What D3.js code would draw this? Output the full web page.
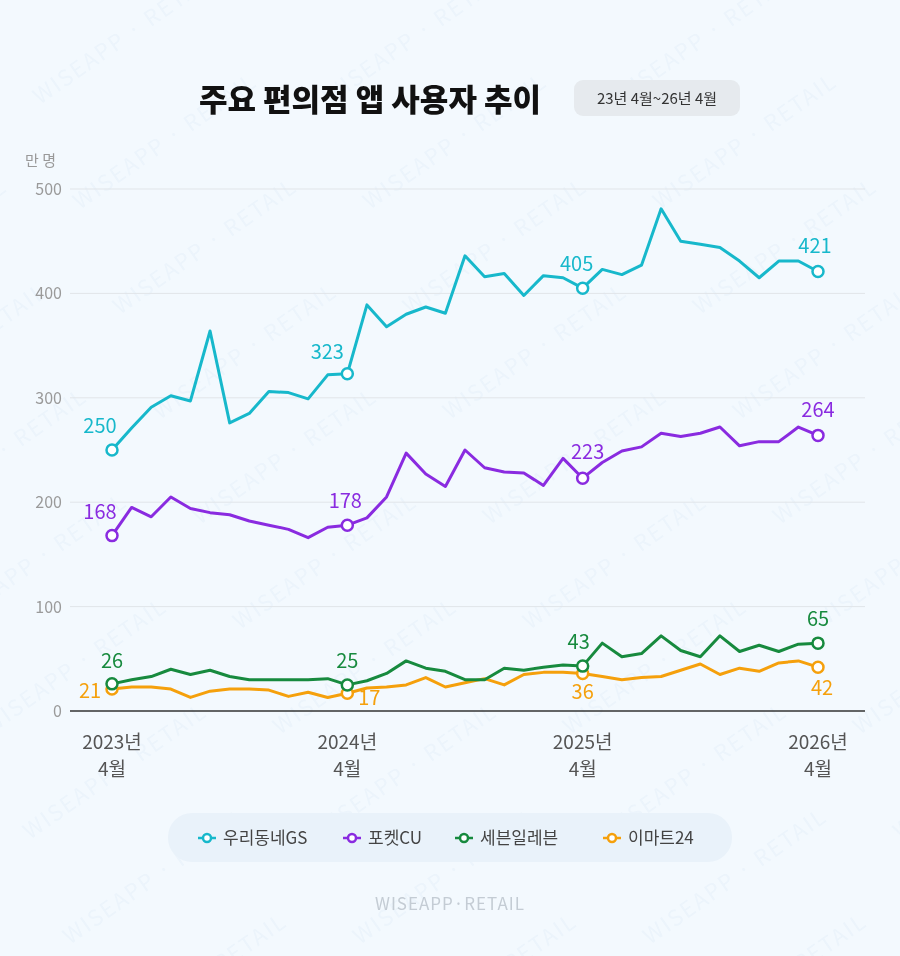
<!DOCTYPE html>
<html>
<head>
<meta charset="utf-8">
<title>주요 편의점 앱 사용자 추이</title>
<script src="https://d3js.org/d3.v7.min.js"></script>
<style>
  body { margin: 0; background: #f3f9fe; font-family: "Noto Sans CJK KR", "Noto Sans", sans-serif; }
  svg text { font-family: "Noto Sans CJK KR", "Noto Sans", sans-serif; }
</style>
</head>
<body>
<script>
// monthly, 2023-04 .. 2026-04 (37 points), unit: 만 명
var months = d3.range(37);
var xTickIdx = [0, 12, 24, 36];
var xTickLabels = [["2023년", "4월"], ["2024년", "4월"], ["2025년", "4월"], ["2026년", "4월"]];
var yTicks = [0, 100, 200, 300, 400, 500];

var seriesNames = ["우리동네GS", "포켓CU", "세븐일레븐", "이마트24"];
var seriesColors = ["#17b8cb", "#8a2be0", "#178a3e", "#f5a00c"];

var gs = [250, 271, 291, 302, 297, 364, 276, 285, 306, 305, 299, 322, 323,
          389, 368, 380, 387, 381, 436, 416, 419, 398, 417, 415, 405,
          423, 418, 427, 481, 450, 447, 444, 431, 415, 431, 431, 421];
var cu = [168, 195, 186, 205, 194, 190, 188, 182, 178, 174, 166, 176, 178,
          185, 205, 247, 227, 215, 250, 233, 229, 228, 216, 242, 223,
          238, 249, 253, 266, 263, 266, 272, 254, 258, 258, 272, 264];
var seven = [26, 30, 33, 40, 35, 39, 33, 30, 30, 30, 30, 31, 25,
             29, 36, 48, 41, 38, 30, 30, 41, 39, 42, 44, 43,
             65, 52, 55, 72, 58, 52, 72, 57, 63, 57, 64, 65];
var emart = [21, 23, 23, 21, 13, 19, 21, 21, 20, 14, 18, 13, 17,
             22, 23, 25, 32, 23, 27, 31, 25, 35, 37, 37, 36,
             33, 30, 32, 33, 39, 45, 35, 41, 38, 46, 48, 42];
var allSeries = [gs, cu, seven, emart];

// label offsets for the marked points [dx, dy] per series
var labelOffsets = [
  [[-12, -17], [-20, -15], [-6, -17], [-3, -18]],
  [[-12, -17], [-2, -17], [5, -19], [0, -18]],
  [[0, -16], [0, -17], [-4, -17], [0, -17]],
  [[-22, 9], [22, 12], [0, 26], [4, 28]]
];

var W = 900, H = 956;
var svg = d3.select("body").append("svg").attr("width", W).attr("height", H);

svg.append("rect").attr("width", W).attr("height", H).attr("fill", "#f3f9fe");

// faint watermark; drop copies that fall completely outside the picture
var wm = svg.append("g").attr("opacity", 0.045);
for (var r = -4; r < 14; r++) {
  for (var c = -2; c < 6; c++) {
    var t = wm.append("text")
      .attr("transform", "translate(" + (c * 290 + r * 40) + "," + (r * 105) + ") rotate(-35)")
      .attr("font-size", 22).attr("fill", "#5a8fc0").attr("letter-spacing", 2)
      .text("WISEAPP · RETAIL");
    var b = t.node().getBoundingClientRect();
    if (b.right < 0 || b.bottom < 0 || b.left > W || b.top > H) t.remove();
  }
}

// title
svg.append("text").attr("x", 370).attr("y", 111).attr("text-anchor", "middle")
  .attr("font-size", 31).attr("font-weight", 900).attr("fill", "#111")
  .text("주요 편의점 앱 사용자 추이");
svg.append("rect").attr("x", 574).attr("y", 80).attr("width", 166).attr("height", 36)
  .attr("rx", 9).attr("fill", "#e6eaee");
svg.append("text").attr("x", 657).attr("y", 104).attr("text-anchor", "middle")
  .attr("font-size", 15).attr("fill", "#333").text("23년 4월~26년 4월");

var x = d3.scaleLinear().domain([0, 36]).range([112, 818]);
var y = d3.scaleLinear().domain([0, 500]).range([711, 189]);

svg.append("text").attr("x", 25).attr("y", 166).attr("font-size", 15)
  .attr("fill", "#999").text("만 명");

// grid
var grid = svg.append("g");
grid.selectAll("line").data(yTicks.filter(d => d > 0)).enter().append("line")
  .attr("x1", 70).attr("x2", 865).attr("y1", d => y(d)).attr("y2", d => y(d))
  .attr("stroke", "#e1e5e9").attr("stroke-width", 1);
grid.selectAll("text").data(yTicks).enter().append("text")
  .attr("x", 62).attr("y", d => y(d) + 6).attr("text-anchor", "end")
  .attr("font-size", 16).attr("fill", "#9a9a9a").text(d => d);
svg.append("line").attr("x1", 70).attr("x2", 865).attr("y1", y(0)).attr("y2", y(0))
  .attr("stroke", "#333").attr("stroke-width", 1.3);

// x labels
var xl = svg.append("g").selectAll("text").data(xTickIdx).enter().append("text")
  .attr("text-anchor", "middle").attr("font-size", 19).attr("fill", "#555");
xl.append("tspan").attr("x", d => x(d)).attr("y", 749).text((d, i) => xTickLabels[i][0]);
xl.append("tspan").attr("x", d => x(d)).attr("y", 776).text((d, i) => xTickLabels[i][1]);

var line = d3.line().x((d, i) => x(i)).y(d => y(d));

// draw in reverse so GS on top
[3, 2, 1, 0].forEach(function(s) {
  var data = allSeries[s], col = seriesColors[s];
  svg.append("path").datum(data).attr("d", line).attr("fill", "none")
    .attr("stroke", col).attr("stroke-width", 3).attr("stroke-linejoin", "round");
  var g = svg.append("g");
  g.selectAll("circle").data(xTickIdx).enter().append("circle")
    .attr("cx", d => x(d)).attr("cy", d => y(data[d])).attr("r", 5.5)
    .attr("fill", "#fff").attr("stroke", col).attr("stroke-width", 2.5);
  g.selectAll("text").data(xTickIdx).enter().append("text")
    .attr("x", (d, i) => x(d) + labelOffsets[s][i][0])
    .attr("y", (d, i) => y(data[d]) + labelOffsets[s][i][1])
    .attr("text-anchor", "middle").attr("font-size", 20).attr("fill", col)
    .text(d => data[d]);
});

// legend
svg.append("rect").attr("x", 168).attr("y", 813).attr("width", 564).attr("height", 49)
  .attr("rx", 24).attr("fill", "#e9f2fa");
var legX = [198, 343, 455, 603];
var leg = svg.append("g").selectAll("g").data(seriesNames).enter().append("g")
  .attr("transform", (d, i) => "translate(" + legX[i] + ",838)");
leg.append("line").attr("x1", 0).attr("x2", 18).attr("stroke", (d, i) => seriesColors[i])
  .attr("stroke-width", 2.5);
leg.append("circle").attr("cx", 9).attr("r", 4).attr("fill", "#fff")
  .attr("stroke", (d, i) => seriesColors[i]).attr("stroke-width", 2.5);
leg.append("text").attr("x", 25).attr("y", 6).attr("font-size", 17).attr("fill", "#444")
  .text(d => d);

// footer
svg.append("text").attr("x", 450).attr("y", 910).attr("text-anchor", "middle")
  .attr("font-size", 17).attr("fill", "#c4ccd4").attr("letter-spacing", 1)
  .text("WISEAPP·RETAIL");
</script>
</body>
</html>
